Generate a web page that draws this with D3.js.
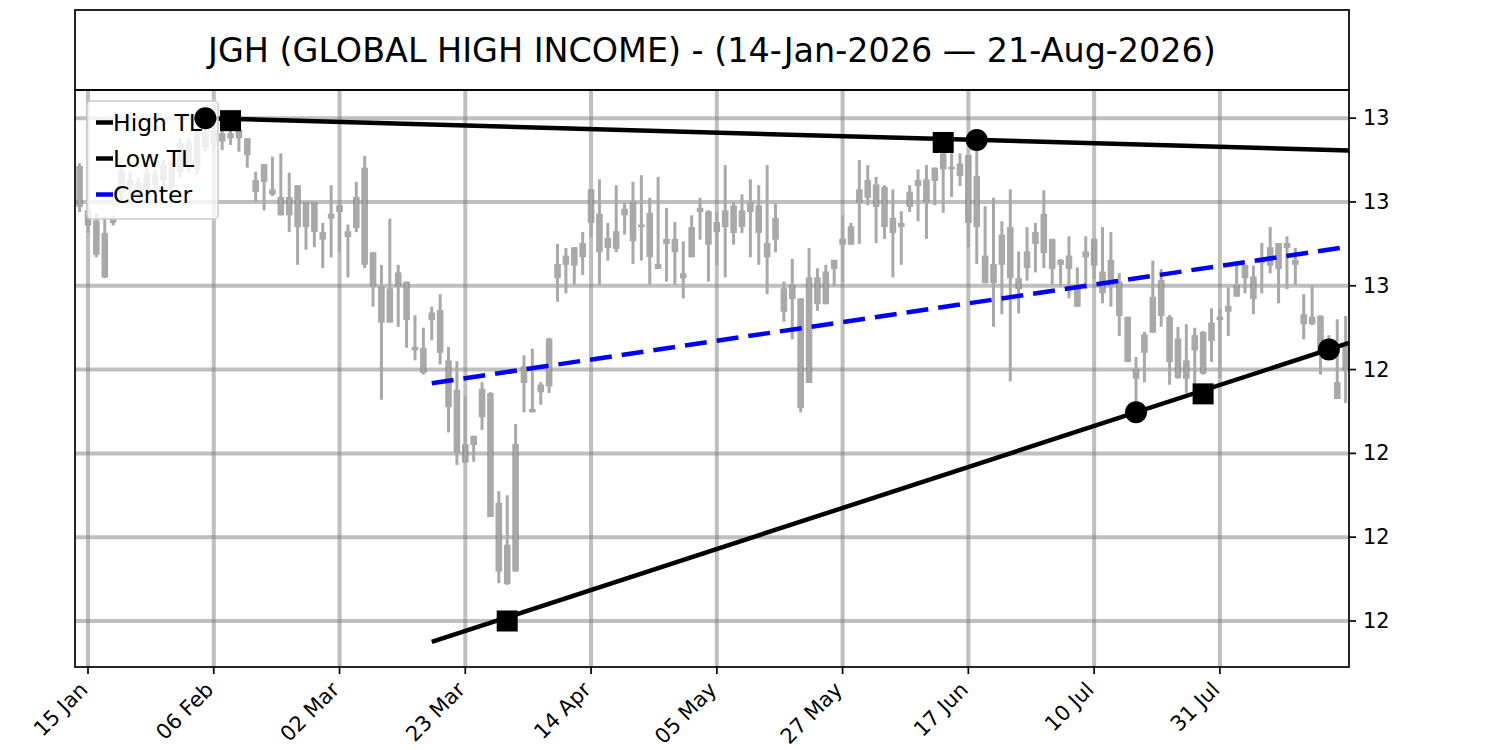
<!DOCTYPE html>
<html>
<head>
<meta charset="utf-8">
<script src="https://cdn.jsdelivr.net/npm/d3@7"></script>
<style>
  body { margin: 0; background: #fff; }
  svg { font-family: "DejaVu Sans", sans-serif; }
</style>
</head>
<body>
<div id="chart"></div>
<script>
// daily candles, one per trading day (index 0 = 14 Jan 2026, 151 = 21 Aug 2026)
var opens = [
  12.743, 12.690, 12.678, 12.663, 12.675, 12.711, 12.726, 12.723, 12.714, 12.720,
  12.726, 12.742, 12.735, 12.742, 12.738, 12.765, 12.768, 12.782, 12.776, 12.776,
  12.776, 12.726, 12.724, 12.715, 12.706, 12.684, 12.720, 12.670, 12.700, 12.664,
  12.680, 12.688, 12.665, 12.669, 12.741, 12.640, 12.599, 12.556, 12.599, 12.605,
  12.527, 12.526, 12.559, 12.571, 12.511, 12.476, 12.411, 12.410, 12.443, 12.472,
  12.341, 12.291, 12.259, 12.484, 12.453, 12.473, 12.480, 12.609, 12.625, 12.624,
  12.634, 12.675, 12.686, 12.657, 12.644, 12.684, 12.700, 12.673, 12.687, 12.626,
  12.650, 12.656, 12.615, 12.634, 12.688, 12.689, 12.664, 12.670, 12.696, 12.670,
  12.688, 12.696, 12.651, 12.655, 12.597, 12.584, 12.585, 12.484, 12.578, 12.578,
  12.620, 12.649, 12.649, 12.699, 12.705, 12.721, 12.718, 12.681, 12.670, 12.694,
  12.719, 12.727, 12.725, 12.739, 12.742, 12.746, 12.756, 12.670, 12.636, 12.626,
  12.625, 12.670, 12.609, 12.621, 12.650, 12.639, 12.656, 12.631, 12.620, 12.601,
  12.634, 12.624, 12.617, 12.600, 12.605, 12.563, 12.501, 12.520, 12.544, 12.564,
  12.563, 12.537, 12.489, 12.523, 12.545, 12.534, 12.559, 12.569, 12.587, 12.609,
  12.611, 12.627, 12.624, 12.651, 12.645, 12.631, 12.566, 12.563, 12.564, 12.529,
  12.485, 12.499
];
var highs = [
  12.746, 12.702, 12.687, 12.682, 12.684, 12.744, 12.736, 12.729, 12.741, 12.738,
  12.750, 12.748, 12.776, 12.776, 12.788, 12.800, 12.792, 12.788, 12.797, 12.788,
  12.776, 12.736, 12.745, 12.754, 12.758, 12.735, 12.720, 12.700, 12.700, 12.675,
  12.720, 12.700, 12.673, 12.724, 12.755, 12.640, 12.625, 12.680, 12.625, 12.605,
  12.565, 12.550, 12.575, 12.590, 12.527, 12.510, 12.468, 12.421, 12.485, 12.473,
  12.355, 12.350, 12.435, 12.517, 12.525, 12.485, 12.538, 12.650, 12.645, 12.646,
  12.664, 12.715, 12.727, 12.675, 12.720, 12.699, 12.724, 12.732, 12.705, 12.730,
  12.693, 12.676, 12.653, 12.684, 12.705, 12.690, 12.688, 12.744, 12.700, 12.709,
  12.727, 12.720, 12.744, 12.698, 12.605, 12.632, 12.585, 12.645, 12.621, 12.625,
  12.631, 12.684, 12.675, 12.750, 12.744, 12.730, 12.720, 12.715, 12.689, 12.720,
  12.739, 12.744, 12.741, 12.758, 12.758, 12.758, 12.756, 12.763, 12.695, 12.705,
  12.677, 12.715, 12.641, 12.670, 12.675, 12.714, 12.656, 12.632, 12.659, 12.622,
  12.659, 12.656, 12.670, 12.664, 12.615, 12.563, 12.515, 12.545, 12.630, 12.620,
  12.565, 12.551, 12.554, 12.550, 12.546, 12.573, 12.573, 12.598, 12.625, 12.625,
  12.624, 12.651, 12.670, 12.651, 12.659, 12.645, 12.590, 12.600, 12.565, 12.541,
  12.560, 12.564
];
var lows = [
  12.688, 12.663, 12.634, 12.609, 12.672, 12.702, 12.708, 12.699, 12.707, 12.712,
  12.719, 12.708, 12.729, 12.736, 12.732, 12.760, 12.762, 12.762, 12.768, 12.760,
  12.741, 12.700, 12.690, 12.707, 12.684, 12.664, 12.625, 12.643, 12.646, 12.621,
  12.634, 12.640, 12.610, 12.664, 12.621, 12.575, 12.464, 12.556, 12.551, 12.526,
  12.511, 12.494, 12.535, 12.506, 12.425, 12.386, 12.389, 12.390, 12.428, 12.324,
  12.245, 12.243, 12.259, 12.449, 12.449, 12.458, 12.472, 12.581, 12.591, 12.601,
  12.613, 12.658, 12.601, 12.630, 12.640, 12.661, 12.626, 12.630, 12.601, 12.620,
  12.605, 12.601, 12.585, 12.634, 12.655, 12.605, 12.625, 12.610, 12.649, 12.663,
  12.634, 12.625, 12.590, 12.640, 12.557, 12.536, 12.449, 12.484, 12.570, 12.578,
  12.600, 12.605, 12.649, 12.650, 12.696, 12.651, 12.656, 12.610, 12.625, 12.688,
  12.677, 12.656, 12.696, 12.687, 12.706, 12.719, 12.646, 12.626, 12.603, 12.551,
  12.566, 12.486, 12.567, 12.606, 12.616, 12.621, 12.601, 12.599, 12.585, 12.575,
  12.596, 12.608, 12.579, 12.575, 12.540, 12.509, 12.448, 12.485, 12.544, 12.551,
  12.482, 12.489, 12.472, 12.483, 12.494, 12.509, 12.490, 12.540, 12.587, 12.591,
  12.566, 12.591, 12.615, 12.579, 12.596, 12.601, 12.536, 12.553, 12.494, 12.523,
  12.465, 12.460
];
var closes = [
  12.694, 12.672, 12.637, 12.610, 12.681, 12.738, 12.718, 12.706, 12.735, 12.732,
  12.744, 12.717, 12.770, 12.770, 12.782, 12.782, 12.786, 12.772, 12.782, 12.786,
  12.756, 12.712, 12.745, 12.709, 12.684, 12.706, 12.670, 12.700, 12.664, 12.655,
  12.686, 12.696, 12.658, 12.706, 12.625, 12.599, 12.556, 12.597, 12.616, 12.559,
  12.523, 12.496, 12.568, 12.520, 12.455, 12.401, 12.389, 12.421, 12.477, 12.324,
  12.259, 12.244, 12.411, 12.504, 12.449, 12.482, 12.537, 12.626, 12.636, 12.646,
  12.651, 12.715, 12.640, 12.645, 12.665, 12.692, 12.653, 12.670, 12.634, 12.620,
  12.656, 12.640, 12.609, 12.670, 12.693, 12.649, 12.676, 12.690, 12.663, 12.690,
  12.699, 12.663, 12.634, 12.681, 12.569, 12.601, 12.454, 12.610, 12.610, 12.617,
  12.631, 12.656, 12.671, 12.715, 12.726, 12.694, 12.670, 12.663, 12.675, 12.712,
  12.726, 12.700, 12.741, 12.758, 12.739, 12.731, 12.675, 12.731, 12.603, 12.603,
  12.661, 12.609, 12.596, 12.641, 12.664, 12.686, 12.620, 12.625, 12.636, 12.575,
  12.641, 12.656, 12.591, 12.631, 12.564, 12.509, 12.489, 12.542, 12.587, 12.607,
  12.509, 12.490, 12.511, 12.541, 12.495, 12.556, 12.563, 12.576, 12.601, 12.625,
  12.584, 12.633, 12.646, 12.620, 12.651, 12.625, 12.554, 12.554, 12.519, 12.536,
  12.465, 12.529
];

// x axis ticks (bar index) and their labels
var xTickIdx = [1, 16, 31, 46, 61, 76, 91, 106, 121, 136];
var xTickLabels = ['15 Jan', '06 Feb', '02 Mar', '23 Mar', '14 Apr', '05 May', '27 May', '17 Jun', '10 Jul', '31 Jul'];

// y axis ticks and the (rounded) labels shown for them
var yTicks = [12.2, 12.3, 12.4, 12.5, 12.6, 12.7, 12.8];
var yTickLabels = ['12', '12', '12', '12', '13', '13', '13'];

// trendline anchor pivots (circles) and other touches (squares)
var highPivotIdx = [15, 107];
var highPivotVal = [12.800, 12.774];
var lowPivotIdx = [126, 149];
var lowPivotVal = [12.449, 12.524];
var highTouchIdx = [18, 103];
var highTouchVal = [12.797, 12.771];
var lowTouchIdx = [51, 134];
var lowTouchVal = [12.200, 12.471];
var highStart = 15, lowStart = 42;

var titleText = 'JGH (GLOBAL HIGH INCOME) - (14-Jan-2026 \u2014 21-Aug-2026)';

var svg = d3.select('#chart').append('svg')
    .attr('width', 1500)
    .attr('height', 750);

// plot area edges
var pL = 75, pR = 1349, pT = 90, pB = 667;

var x = d3.scaleLinear().domain([-0.55, 151.4]).range([pL, pR]);
var y = d3.scaleLinear().domain([12.1451, 12.8336]).range([pB, pT]);

// title box
svg.append('rect')
    .attr('x', pL).attr('y', 10)
    .attr('width', pR - pL).attr('height', 80)
    .attr('fill', 'none').attr('stroke', '#000').attr('stroke-width', 1.7);
svg.append('text')
    .attr('x', (pL + pR) / 2)
    .attr('y', 50)
    .attr('text-anchor', 'middle')
    .attr('dominant-baseline', 'central')
    .attr('font-size', '33.4px')
    .attr('fill', '#000')
    .text(titleText);

svg.append('clipPath').attr('id', 'plotclip')
  .append('rect')
    .attr('x', pL).attr('y', pT)
    .attr('width', pR - pL).attr('height', pB - pT);

var plot = svg.append('g').attr('clip-path', 'url(#plotclip)');

var bars = d3.range(opens.length);
var candleColor = '#a9a9a9';

// candle bodies
plot.append('g').selectAll('rect')
    .data(bars)
    .enter().append('rect')
    .attr('x', function(i) { return x(i) - 3.3; })
    .attr('width', 6.6)
    .attr('y', function(i) { return y(Math.max(opens[i], closes[i])); })
    .attr('height', function(i) {
        return Math.max(1.5, y(Math.min(opens[i], closes[i])) - y(Math.max(opens[i], closes[i])));
    })
    .attr('fill', candleColor);

// grid
var grid = plot.append('g')
    .attr('stroke', '#808080')
    .attr('stroke-opacity', 0.5)
    .attr('stroke-width', 4);
grid.selectAll('.hg').data(yTicks).enter().append('line')
    .attr('x1', pL).attr('x2', pR)
    .attr('y1', function(d) { return y(d); })
    .attr('y2', function(d) { return y(d); });
grid.selectAll('.vg').data(xTickIdx).enter().append('line')
    .attr('y1', pT).attr('y2', pB)
    .attr('x1', function(d) { return x(d); })
    .attr('x2', function(d) { return x(d); });

// wicks
plot.append('g').selectAll('line')
    .data(bars)
    .enter().append('line')
    .attr('x1', function(i) { return x(i); })
    .attr('x2', function(i) { return x(i); })
    .attr('y1', function(i) { return y(highs[i]); })
    .attr('y2', function(i) { return y(lows[i]); })
    .attr('stroke', candleColor)
    .attr('stroke-width', 3);

// trendlines
function lineAt(idx, val, i) {
    return val[0] + (val[1] - val[0]) * (i - idx[0]) / (idx[1] - idx[0]);
}
var xEnd = x.domain()[1];

plot.append('line')
    .attr('x1', x(highStart)).attr('y1', y(lineAt(highPivotIdx, highPivotVal, highStart)))
    .attr('x2', x(xEnd)).attr('y2', y(lineAt(highPivotIdx, highPivotVal, xEnd)))
    .attr('stroke', '#000').attr('stroke-width', 4.5);

plot.append('line')
    .attr('x1', x(lowStart)).attr('y1', y(lineAt(lowPivotIdx, lowPivotVal, lowStart)))
    .attr('x2', x(xEnd)).attr('y2', y(lineAt(lowPivotIdx, lowPivotVal, xEnd)))
    .attr('stroke', '#000').attr('stroke-width', 4.5);

function centerAt(i) {
    return (lineAt(highPivotIdx, highPivotVal, i) + lineAt(lowPivotIdx, lowPivotVal, i)) / 2;
}
plot.append('line')
    .attr('x1', x(lowStart)).attr('y1', y(centerAt(lowStart)))
    .attr('x2', x(xEnd)).attr('y2', y(centerAt(xEnd)))
    .attr('stroke', '#0000ff').attr('stroke-width', 4.5)
    .attr('stroke-dasharray', '22,10');

// axes frame
svg.append('rect')
    .attr('x', pL).attr('y', pT)
    .attr('width', pR - pL).attr('height', pB - pT)
    .attr('fill', 'none').attr('stroke', '#000').attr('stroke-width', 1.7);

// x ticks
var xAxis = svg.append('g');
xAxis.selectAll('line').data(xTickIdx).enter().append('line')
    .attr('x1', function(d) { return x(d); })
    .attr('x2', function(d) { return x(d); })
    .attr('y1', pB).attr('y2', pB + 7)
    .attr('stroke', '#000').attr('stroke-width', 1.7);
xAxis.selectAll('text').data(xTickIdx).enter().append('text')
    .attr('transform', function(d) { return 'translate(' + (x(d) + 1) + ',691) rotate(-45)'; })
    .attr('text-anchor', 'end')
    .attr('font-size', '21px')
    .attr('fill', '#000')
    .text(function(d, i) { return xTickLabels[i]; });

// y ticks (right side)
var yAxis = svg.append('g');
yAxis.selectAll('line').data(yTicks).enter().append('line')
    .attr('x1', pR).attr('x2', pR + 7)
    .attr('y1', function(d) { return y(d); })
    .attr('y2', function(d) { return y(d); })
    .attr('stroke', '#000').attr('stroke-width', 1.7);
yAxis.selectAll('text').data(yTicks).enter().append('text')
    .attr('x', pR + 14)
    .attr('y', function(d) { return y(d); })
    .attr('dominant-baseline', 'central')
    .attr('font-size', '20.8px')
    .attr('fill', '#000')
    .text(function(d, i) { return yTickLabels[i]; });

// legend
var legend = svg.append('g');
legend.append('rect')
    .attr('x', 87).attr('y', 101)
    .attr('width', 131).attr('height', 118)
    .attr('rx', 4)
    .attr('fill', '#fff').attr('fill-opacity', 0.8)
    .attr('stroke', '#cccccc').attr('stroke-width', 1.5);
var legendItems = [
    { label: 'High TL', color: '#000' },
    { label: 'Low TL', color: '#000' },
    { label: 'Center', color: '#0000ff' }
];
legendItems.forEach(function(d, k) {
    var by = 131 + k * 36;
    legend.append('line')
        .attr('x1', 96).attr('x2', 113)
        .attr('y1', by - 8.5).attr('y2', by - 8.5)
        .attr('stroke', d.color).attr('stroke-width', 4.5);
    legend.append('text')
        .attr('x', 113).attr('y', by)
        .attr('font-size', '23.5px')
        .attr('fill', '#000')
        .text(d.label);
});

// pivot markers
var marks = svg.append('g').attr('fill', '#000');
function circles(idx, val) {
    idx.forEach(function(i, k) {
        marks.append('circle').attr('cx', x(i)).attr('cy', y(val[k])).attr('r', 11);
    });
}
function squares(idx, val) {
    idx.forEach(function(i, k) {
        marks.append('rect')
            .attr('x', x(i) - 10.5).attr('y', y(val[k]) - 10.5)
            .attr('width', 21).attr('height', 21);
    });
}
circles(highPivotIdx, highPivotVal);
circles(lowPivotIdx, lowPivotVal);
squares(highTouchIdx, highTouchVal);
squares(lowTouchIdx, lowTouchVal);
</script>
</body>
</html>
